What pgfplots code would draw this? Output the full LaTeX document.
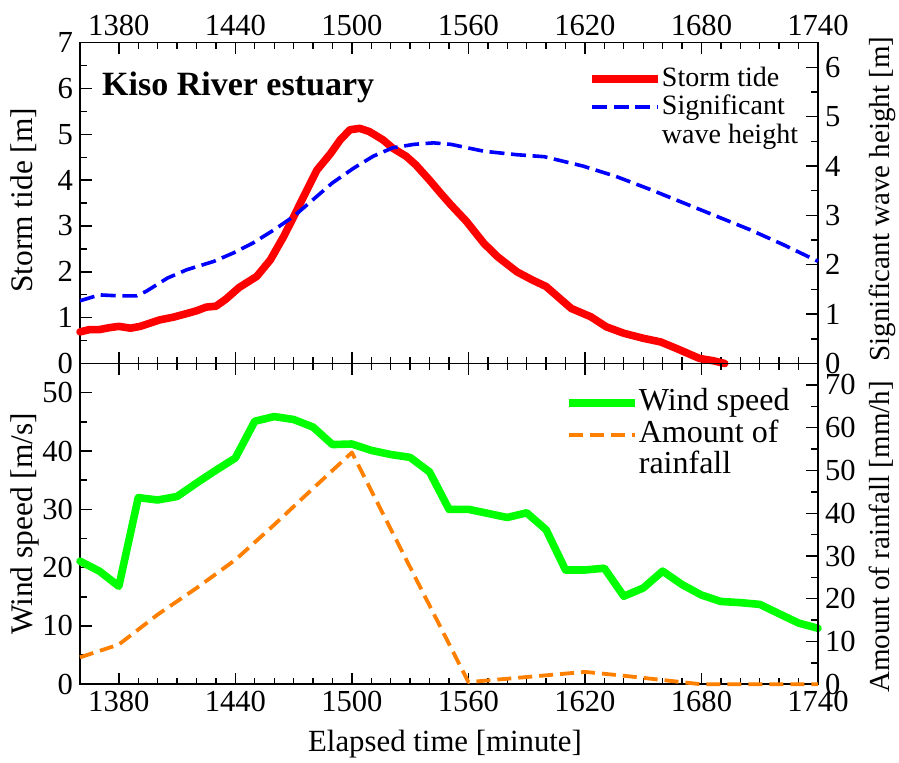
\documentclass[border=0pt]{standalone}
\usepackage{fontspec}
\setmainfont{Liberation Serif}
\usepackage{pgfplots}
\pgfplotsset{compat=1.18}
\definecolor{myorange}{RGB}{255,128,0}
\definecolor{mygreen}{RGB}{0,255,0}
\pgfplotsset{
  base/.style={
    scale only axis, width=369pt, height=160.4pt,
    xmin=1360, xmax=1740,
    xtick={1380,1440,...,1740},
    minor x tick num=5,
    tick align=inside,
    major tick length=5.8pt, minor tick length=3.3pt,
    /pgf/number format/assume math mode=true,
    /pgf/number format/1000 sep={},
    every tick/.style={black, line width=0.7pt},
    axis line style={line width=0.8pt},
    tick label style={font=\fontsize{15.3}{18}\selectfont},
    clip=false,
  },
  lineleg/.style={legend image code/.code={\draw[##1] (0pt,0pt) -- (33pt,0pt);}},
}
\begin{document}
\begin{tikzpicture}
% ---------- top panel, left axis ----------
\begin{axis}[base, at={(0,160.4pt)}, anchor=south west,
  ymin=0, ymax=7, ytick={0,1,...,7}, minor y tick num=1,
  ytick pos=left, xtick pos=both, xticklabel pos=upper,
  ylabel={Storm tide [m]},
  ylabel style={at={(axis description cs:-0.0759,0.509)}, anchor=center, font=\fontsize{15.7}{18}\selectfont},
]
\addplot[red, line width=3.8pt, line join=round, line cap=round] coordinates {
(1360,0.69) (1365,0.74) (1370,0.74) (1375,0.78) (1380,0.81) (1386,0.77) (1391,0.81)
(1396,0.88) (1401,0.95) (1408,1.01) (1415,1.09) (1420,1.15) (1425,1.23) (1430,1.25)
(1435,1.40) (1442,1.66) (1451,1.90) (1458,2.26) (1465,2.78) (1470,3.20) (1477,3.80)
(1482,4.22) (1489,4.58) (1494,4.88) (1499,5.10) (1504,5.13) (1509,5.06) (1516,4.88)
(1521,4.70) (1528,4.52) (1533,4.33) (1540,4.00) (1546,3.70) (1551,3.46) (1559,3.10)
(1568,2.62) (1575,2.33) (1585,2.00) (1593,1.82) (1600,1.68) (1607,1.42) (1613,1.20)
(1623,1.02) (1631,0.80) (1640,0.66) (1650,0.55) (1659,0.47) (1667,0.33) (1679,0.11)
(1686,0.06) (1692,0.00)};
\node[anchor=base west, font=\bfseries\fontsize{17}{20}\selectfont, inner sep=0pt] at (rel axis cs:0.0295,0.835) {Kiso River estuary};
\end{axis}
% ---------- top panel, right axis ----------
\begin{axis}[base, at={(0,160.4pt)}, anchor=south west,
  axis x line=none, axis y line*=right,
  ymin=0, ymax=6.5, ytick={0,1,...,6}, minor y tick num=1,
  ytick pos=right,
  ylabel={Significant wave height [m]},
  ylabel style={at={(axis description cs:1.0867,0.513)}, anchor=center, font=\fontsize{14.5}{17}\selectfont},
  lineleg,
  legend style={draw=none, fill=none, at={(rel axis cs:0.6883,0.931)}, anchor=north west,
    inner sep=0pt, row sep=0.7pt, font=\fontsize{14}{16}\selectfont,
    nodes={inner sep=0pt, text height=10.5pt, text depth=3pt},
    /tikz/every even column/.append style={column sep=3.2pt}},
  legend cell align=left,
]
\addlegendimage{red, line width=3.8pt}
\addlegendentry{Storm tide}
\addplot[blue, line width=1.8pt, dash pattern=on 7.5pt off 3.3pt, line join=round] coordinates {
(1360,1.27) (1370,1.39) (1380,1.37) (1389,1.37) (1394,1.46) (1405,1.73) (1415,1.90)
(1429,2.07) (1439,2.24) (1449,2.44) (1460,2.71) (1470,2.98) (1480,3.32) (1490,3.66)
(1501,3.96) (1511,4.20) (1521,4.37) (1532,4.44) (1542,4.47) (1551,4.44) (1568,4.30)
(1585,4.23) (1599,4.19) (1619,4.00) (1636,3.79) (1654,3.52) (1671,3.25) (1688,2.98)
(1705,2.71) (1722,2.41) (1740,2.07)};
\addlegendentry{Significant}
\addlegendimage{empty legend}
\addlegendentry{wave height}
\end{axis}
% ---------- bottom panel, left axis ----------
\begin{axis}[base, at={(0,0)}, anchor=south west,
  ymin=0, ymax=55, ytick={0,10,...,50}, minor y tick num=1,
  ytick pos=left, xtick pos=both, xticklabel pos=lower,
  ylabel={Wind speed [m/s]},
  ylabel style={at={(axis description cs:-0.0745,0.5)}, anchor=center, font=\fontsize{15.7}{18}\selectfont},
  xlabel={Elapsed time [minute]},
  xlabel style={at={(axis description cs:0.4946,-0.186)}, anchor=center, font=\fontsize{15.4}{18}\selectfont},
]
\addplot[mygreen, line width=3.8pt, line join=round, line cap=round] coordinates {
(1360,21.1) (1370,19.4) (1380,16.8) (1390,32.0) (1400,31.6) (1410,32.2) (1420,34.5)
(1430,36.7) (1440,38.8) (1450,45.1) (1460,45.9) (1470,45.4) (1480,44.1) (1490,41.1)
(1500,41.2) (1510,40.1) (1520,39.4) (1530,38.9) (1540,36.4) (1550,30.0) (1560,30.0)
(1570,29.3) (1580,28.6) (1590,29.4) (1600,26.5) (1610,19.6) (1620,19.6) (1630,19.9)
(1640,15.1) (1650,16.5) (1660,19.4) (1670,17.1) (1680,15.3) (1690,14.2) (1700,14.0)
(1710,13.7) (1720,12.1) (1730,10.5) (1740,9.6)};
\end{axis}
% ---------- bottom panel, right axis ----------
\begin{axis}[base, at={(0,0)}, anchor=south west,
  axis x line=none, axis y line*=right,
  ymin=0, ymax=75, ytick={0,10,...,70}, minor y tick num=1,
  ytick pos=right,
  ylabel={Amount of rainfall [mm/h]},
  ylabel style={at={(axis description cs:1.0854,0.459)}, anchor=center, font=\fontsize{14.5}{17}\selectfont},
  lineleg,
  legend style={draw=none, fill=none, at={(rel axis cs:0.657,0.920)}, anchor=north west,
    inner sep=0pt, row sep=2.3pt, font=\fontsize{16}{18}\selectfont,
    nodes={inner sep=0pt, text height=10.5pt, text depth=3pt},
    /tikz/every even column/.append style={column sep=3.8pt}},
  legend cell align=left,
]
\addlegendimage{mygreen, line width=3.8pt}
\addlegendentry{Wind speed}
\addplot[myorange, line width=1.9pt, dash pattern=on 7pt off 3.5pt, line join=round] coordinates {
(1360,6.3) (1380,9.3) (1400,16.3) (1420,22.5) (1440,29.1) (1460,37.3) (1480,45.8)
(1500,54.2) (1560,0.5) (1580,1.3) (1600,2.1) (1620,2.9) (1640,2.0) (1660,1.0)
(1680,0.0) (1740,0.0)};
\addlegendentry{Amount of}
\addlegendimage{empty legend}
\addlegendentry{rainfall}
\end{axis}
\pgfresetboundingbox
\useasboundingbox (-40pt,-39.35pt) rectangle (409.5pt,342.15pt);
\end{tikzpicture}
\end{document}
